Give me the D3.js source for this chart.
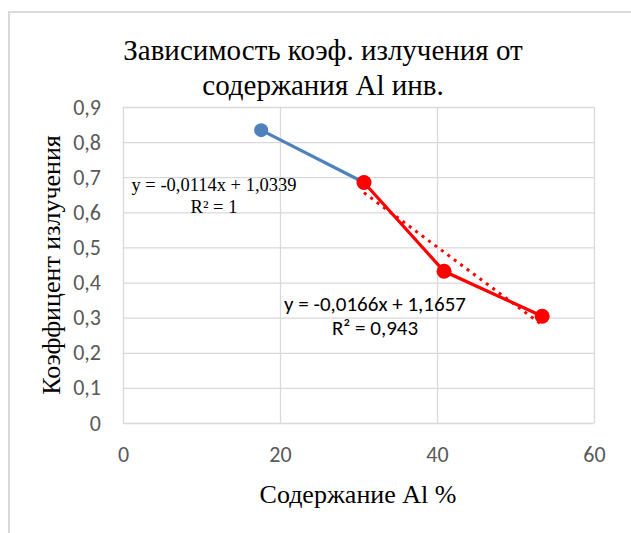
<!DOCTYPE html>
<html>
<head>
<meta charset="utf-8">
<script src="https://cdn.jsdelivr.net/npm/d3@7"></script>
<style>
  body { margin: 0; background: #fff; }
  svg { display: block; }
</style>
</head>
<body>
<svg id="chart"></svg>
<script>
// data
const blueX = [17.6, 30.7];
const blueY = [0.834, 0.685];
const redX = [30.7, 40.9, 53.4];
const redY = [0.685, 0.432, 0.304];
const redTrend = { slope: -0.0166, intercept: 1.1657 };
const xTicks = [0, 20, 40, 60];
const yTicks = [0, 0.1, 0.2, 0.3, 0.4, 0.5, 0.6, 0.7, 0.8, 0.9];

const width = 631, height = 533;
const margin = { top: 107, right: 37, bottom: 110, left: 123 };
const serif = "'Liberation Serif', 'Times New Roman', serif";
const sans = "Carlito, 'Open Sans', sans-serif";

const svg = d3.select("#chart").attr("width", width).attr("height", height);

// outer chart border (cropped at right/bottom)
svg.append("path")
    .attr("d", `M9,${height} V12 H${width}`)
    .attr("fill", "none")
    .attr("stroke", "#d9d9d9")
    .attr("stroke-width", 2);

const x = d3.scaleLinear().domain([0, 60]).range([margin.left, width - margin.right]);
const y = d3.scaleLinear().domain([0, 0.9]).range([height - margin.bottom, margin.top]);

const fmt = d => String(d).replace(".", ",");

// gridlines
svg.append("g")
    .attr("transform", `translate(0,${y(0)})`)
    .call(d3.axisBottom(x).tickValues(xTicks).tickSize(-(y(0) - y(0.9))).tickFormat(""))
    .call(g => g.select(".domain").remove())
    .call(g => g.selectAll("line").attr("stroke", "#d9d9d9").attr("stroke-width", 1.3));

svg.append("g")
    .attr("transform", `translate(${x(0)},0)`)
    .call(d3.axisLeft(y).tickValues(yTicks).tickSize(-(x(60) - x(0))).tickFormat(""))
    .call(g => g.select(".domain").remove())
    .call(g => g.selectAll("line").attr("stroke", "#d9d9d9").attr("stroke-width", 1.3));

// tick labels
svg.append("g")
    .attr("transform", `translate(0,${y(0)})`)
    .call(d3.axisBottom(x).tickValues(xTicks).tickSize(0).tickPadding(23).tickFormat(fmt))
    .call(g => g.select(".domain").remove())
    .call(g => g.selectAll("text")
        .attr("fill", "#595959")
        .attr("font-family", sans)
        .attr("font-size", 22));

svg.append("g")
    .attr("transform", `translate(${x(0)},0)`)
    .call(d3.axisLeft(y).tickValues(yTicks).tickSize(0).tickPadding(22).tickFormat(fmt))
    .call(g => g.select(".domain").remove())
    .call(g => g.selectAll("text")
        .attr("fill", "#595959")
        .attr("font-family", sans)
        .attr("font-size", 22));

// title
const title = svg.append("text")
    .attr("text-anchor", "middle")
    .attr("font-family", serif)
    .attr("font-size", 29)
    .attr("fill", "#000");
title.append("tspan").attr("x", 323).attr("y", 60).text("Зависимость коэф. излучения от");
title.append("tspan").attr("x", 323).attr("y", 95).text("содержания Al инв.");

// axis titles
svg.append("text")
    .attr("x", 358).attr("y", 503)
    .attr("text-anchor", "middle")
    .attr("font-family", serif)
    .attr("font-size", 26)
    .text("Содержание Al %");

svg.append("text")
    .attr("transform", `translate(60,${(y(0) + y(0.9)) / 2}) rotate(-90)`)
    .attr("text-anchor", "middle")
    .attr("font-family", serif)
    .attr("font-size", 26)
    .text("Коэффицент излучения");

// series
const line = d3.line().x(d => x(d[0])).y(d => y(d[1]));
const blue = blueX.map((v, i) => [v, blueY[i]]);
const red = redX.map((v, i) => [v, redY[i]]);

svg.append("path")
    .datum(blue)
    .attr("d", line)
    .attr("fill", "none")
    .attr("stroke", "#4f81bd")
    .attr("stroke-width", 3.2);

svg.selectAll(".blue-pt")
    .data(blue)
    .join("circle")
    .attr("cx", d => x(d[0]))
    .attr("cy", d => y(d[1]))
    .attr("r", 7)
    .attr("fill", "#4f81bd");

// red trendline (dotted)
const tx = d3.extent(redX);
svg.append("path")
    .datum(tx.map(v => [v, redTrend.slope * v + redTrend.intercept]))
    .attr("d", line)
    .attr("fill", "none")
    .attr("stroke", "#ff0000")
    .attr("stroke-width", 3)
    .attr("stroke-dasharray", "3,5");

svg.append("path")
    .datum(red)
    .attr("d", line)
    .attr("fill", "none")
    .attr("stroke", "#ff0000")
    .attr("stroke-width", 3.2);

svg.selectAll(".red-pt")
    .data(red)
    .join("circle")
    .attr("cx", d => x(d[0]))
    .attr("cy", d => y(d[1]))
    .attr("r", 7.5)
    .attr("fill", "#ff0000");

// trendline labels
const blueLbl = svg.append("text")
    .attr("text-anchor", "middle")
    .attr("font-family", serif)
    .attr("font-size", 18.5);
blueLbl.append("tspan").attr("x", 214).attr("y", 191).text("y = -0,0114x + 1,0339");
blueLbl.append("tspan").attr("x", 214).attr("y", 213).text("R² = 1");

const redLbl = svg.append("text")
    .attr("text-anchor", "middle")
    .attr("font-family", sans)
    .attr("font-size", 21);
redLbl.append("tspan").attr("x", 375).attr("y", 311).text("y = -0,0166x + 1,1657");
redLbl.append("tspan").attr("x", 375).attr("y", 335).text("R² = 0,943");
</script>
</body>
</html>
